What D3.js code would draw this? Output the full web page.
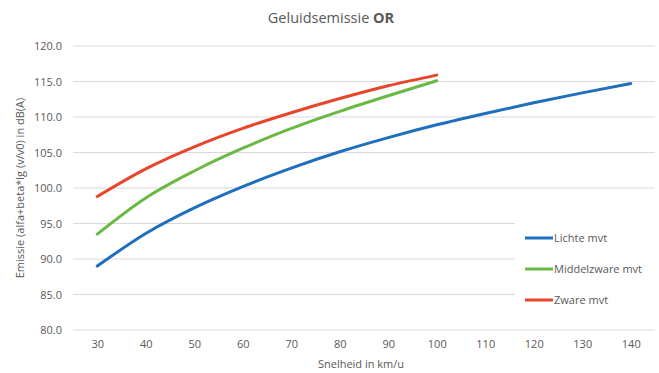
<!DOCTYPE html>
<html><head><meta charset="utf-8">
<script src="https://cdn.jsdelivr.net/npm/d3@7"></script>
<style>
body{margin:0;background:#fff;}
svg text{font-family:"Open Sans","Liberation Sans",sans-serif;fill:#595959;}
</style></head>
<body><svg id="c" width="659" height="373"></svg>
<script>
const speeds = [30,40,50,60,70,80,90,100,110,120,130,140];
const lichte = [89.0,93.6,97.2,100.2,102.8,105.1,107.1,108.9,110.5,112.0,113.4,114.7];
const middelzwaar = [93.5,98.6,102.4,105.6,108.4,110.8,113.0,115.1];
const zwaar = [98.8,102.7,105.8,108.4,110.6,112.6,114.4,115.9];
const yTicks = [80,85,90,95,100,105,110,115,120];
const seriesNames = ["Lichte mvt","Middelzware mvt","Zware mvt"];
const seriesColors = ["#1f6fbe","#6bb944","#e7462b"];

const svg = d3.select("#c");
const L=73, R=655, T=46, B=330;
const x = d3.scalePoint().domain(speeds).range([L,R]).padding(0.5);
const y = d3.scaleLinear().domain([80,120]).range([B,T]);

// gridlines
const gy = svg.append("g");
gy.selectAll("line").data(yTicks).join("line")
  .attr("x1",L).attr("x2",R).attr("y1",d=>y(d)).attr("y2",d=>y(d))
  .attr("stroke","#d9d9d9").attr("stroke-width",1);

// axes via d3
const yAxis = svg.append("g").attr("transform",`translate(${L},0)`)
  .call(d3.axisLeft(y).tickValues(yTicks).tickFormat(d3.format(".1f")).tickSize(0).tickPadding(11));
yAxis.select(".domain").remove();
yAxis.selectAll("text").attr("font-size",11).style("font-family","'Open Sans',sans-serif").attr("fill","#595959");

const xAxis = svg.append("g").attr("transform",`translate(0,${B})`)
  .call(d3.axisBottom(x).tickSize(0).tickPadding(10));
xAxis.select(".domain").remove();
xAxis.selectAll("text").attr("font-size",11).style("font-family","'Open Sans',sans-serif").attr("fill","#595959");

// legend background
svg.append("rect").attr("x",515).attr("y",214).attr("width",144).attr("height",100).attr("fill","#fff");

const data = [lichte, middelzwaar, zwaar];
const line = d3.line().x((d,i)=>x(speeds[i])).y(d=>y(d)).curve(d3.curveMonotoneX);
data.forEach((s,k)=>{
  svg.append("path").datum(s).attr("d",line).attr("fill","none")
    .attr("stroke",seriesColors[k]).attr("stroke-width",3).attr("stroke-linecap","round");
});

// legend
seriesNames.forEach((n,k)=>{
  const ly = 238 + k*31;
  svg.append("line").attr("x1",525).attr("x2",553).attr("y1",ly).attr("y2",ly)
    .attr("stroke",seriesColors[k]).attr("stroke-width",3);
  svg.append("text").attr("x",554).attr("y",ly+4).attr("font-size",11).text(n);
});

// title
const t = svg.append("text").attr("x",331).attr("y",23).attr("text-anchor","middle").attr("font-size",14.5);
t.append("tspan").text("Geluidsemissie ");
t.append("tspan").attr("font-weight","bold").text("OR");

// axis titles
svg.append("text").attr("x",361).attr("y",368).attr("text-anchor","middle").attr("font-size",11).text("Snelheid in km/u");
svg.append("text").attr("transform","translate(24,188) rotate(-90)").attr("text-anchor","middle").attr("font-size",11)
  .text("Emissie (alfa+beta*lg (v/v0) in dB(A)");
</script></body></html>
